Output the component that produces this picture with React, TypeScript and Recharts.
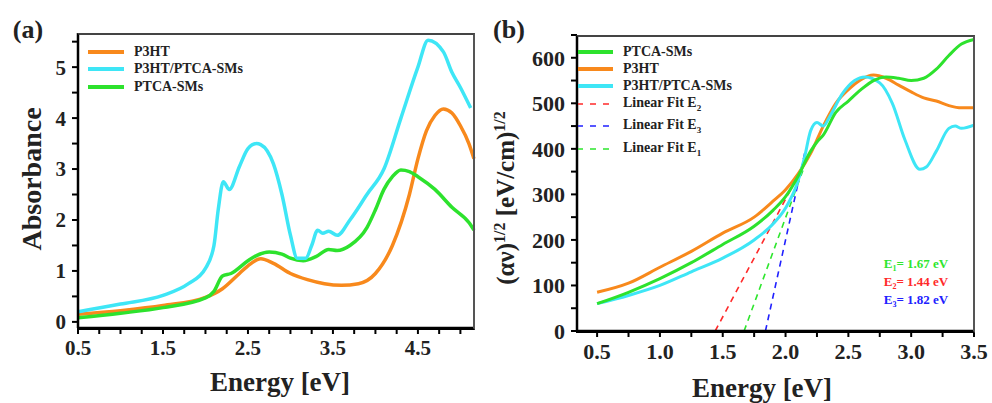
import React from "react"
import { LineChart, Line, XAxis, YAxis } from "recharts"

const FONT = '"Liberation Serif", "DejaVu Serif", serif'
const ORANGE = "#f8891c"
const CYAN = "#3ee6f6"
const GREEN = "#2de22d"

// ---- panel (a): absorbance vs energy
const aP3htE = [0.5, 1.0, 1.5, 2.0, 2.2, 2.4, 2.5, 2.65, 2.8, 3.0, 3.2, 3.4, 3.6, 3.8, 4.0, 4.2, 4.4, 4.5, 4.6, 4.7, 4.8, 4.9, 5.0, 5.1, 5.16]
const aP3htAbs = [0.15, 0.22, 0.32, 0.48, 0.65, 0.95, 1.1, 1.24, 1.15, 0.95, 0.83, 0.75, 0.72, 0.75, 0.95, 1.5, 2.5, 3.2, 3.75, 4.05, 4.18, 4.1, 3.85, 3.5, 3.2]

const aBlendE = [0.5, 1.0, 1.5, 1.8, 2.0, 2.1, 2.15, 2.21, 2.28, 2.4, 2.5, 2.6, 2.65, 2.8, 2.9, 3.0, 3.08, 3.18, 3.25, 3.32, 3.38, 3.45, 3.55, 3.7, 3.9, 4.1, 4.3, 4.5, 4.62, 4.8, 4.9, 5.0, 5.12]
const aBlendAbs = [0.2, 0.35, 0.52, 0.75, 1.05, 1.5, 2.2, 2.75, 2.6, 3.05, 3.4, 3.5, 3.48, 3.1, 2.5, 1.7, 1.25, 1.25, 1.5, 1.8, 1.74, 1.78, 1.7, 2.0, 2.5, 3.0, 4.0, 5.0, 5.53, 5.3, 4.9, 4.6, 4.2]

const aPtcaE = [0.5, 1.0, 1.5, 2.0, 2.1, 2.2, 2.3, 2.5, 2.6, 2.75, 2.9, 3.0, 3.15, 3.3, 3.45, 3.55, 3.7, 3.9, 4.0, 4.1, 4.2, 4.3, 4.4, 4.5, 4.7, 4.9, 5.1, 5.16]
const aPtcaAbs = [0.08, 0.17, 0.28, 0.47, 0.6, 0.9, 0.95, 1.2, 1.3, 1.37, 1.33, 1.25, 1.2, 1.28, 1.42, 1.4, 1.5, 1.85, 2.2, 2.6, 2.85, 2.98, 2.95, 2.85, 2.6, 2.25, 1.95, 1.8]

const aXTicks = [0.5, 0.75, 1.0, 1.25, 1.5, 1.75, 2.0, 2.25, 2.5, 2.75, 3.0, 3.25, 3.5, 3.75, 4.0, 4.25, 4.5, 4.75, 5.0]
const aXLabels = [0.5, 1.5, 2.5, 3.5, 4.5]
const aYTicks = [0, 0.5, 1, 1.5, 2, 2.5, 3, 3.5, 4, 4.5, 5, 5.5]
const aYLabels = [0, 1, 2, 3, 4, 5]

// ---- panel (b): Tauc plot
const bPtcaE = [0.5, 0.75, 1.0, 1.25, 1.5, 1.75, 1.9, 2.0, 2.1, 2.2, 2.25, 2.3, 2.4, 2.5, 2.6, 2.7, 2.8, 2.9, 3.0, 3.1, 3.2, 3.3, 3.4, 3.5]
const bPtcaVal = [60, 85, 115, 150, 190, 230, 265, 295, 340, 395, 415, 430, 480, 505, 530, 550, 558, 555, 550, 555, 575, 605, 630, 640]

const bP3htE = [0.5, 0.75, 1.0, 1.25, 1.5, 1.75, 1.9, 2.0, 2.1, 2.2, 2.3, 2.4, 2.5, 2.6, 2.7, 2.8, 2.9, 3.0, 3.1, 3.2, 3.3, 3.4, 3.5]
const bP3htVal = [85, 105, 140, 175, 215, 250, 285, 310, 345, 390, 450, 500, 530, 552, 562, 555, 540, 525, 512, 505, 495, 490, 490]

const bBlendE = [0.5, 0.75, 1.0, 1.25, 1.5, 1.75, 1.9, 2.0, 2.1, 2.15, 2.2, 2.25, 2.3, 2.35, 2.45, 2.55, 2.63, 2.75, 2.85, 2.95, 3.07, 3.12, 3.2, 3.3, 3.35, 3.4, 3.5]
const bBlendVal = [60, 78, 100, 130, 160, 200, 235, 270, 330, 380, 440, 458, 450, 470, 520, 550, 558, 545, 500, 420, 355, 360, 395, 445, 450, 445, 452]

const fitE2E = [1.44, 2.2]
const fitE2Val = [0, 393]
const fitE3E = [1.84, 2.16]
const fitE3Val = [0, 400]
const fitE1E = [1.67, 2.14]
const fitE1Val = [0, 354]

const bXTicks = [0.5, 0.75, 1.0, 1.25, 1.5, 1.75, 2.0, 2.25, 2.5, 2.75, 3.0, 3.25, 3.5]
const bXLabels = [0.5, 1.0, 1.5, 2.0, 2.5, 3.0, 3.5]
const bYTicks = [0, 50, 100, 150, 200, 250, 300, 350, 400, 450, 500, 550, 600, 650]
const bYLabels = [0, 100, 200, 300, 400, 500, 600]

const zip = (xs: number[], ys: number[]) => xs.map((x, i) => ({ x, y: ys[i] }))

const tickStyle = { fill: "#222", fontFamily: FONT, fontWeight: 700 }
const axisLine = { stroke: "#000", strokeWidth: 2.5 }
const tickLine = { stroke: "#000", strokeWidth: 2 }

function Overlay({ x, y, size, rotate, children, color = "#222" }: any) {
  return (
    <div
      style={{
        position: "absolute",
        left: x,
        top: y,
        transform: `translate(-50%, -50%)${rotate ? " rotate(-90deg)" : ""}`,
        fontFamily: FONT,
        fontWeight: 700,
        fontSize: size,
        lineHeight: 1,
        whiteSpace: "nowrap",
        color,
      }}
    >
      {children}
    </div>
  )
}

function LegendRow({ x, y, color, dashed, label, size = 14 }: any) {
  return (
    <div style={{ position: "absolute", left: x, top: y - 9, height: 18, display: "flex", alignItems: "center", fontFamily: FONT, fontWeight: 700, fontSize: size, color: "#222", whiteSpace: "nowrap" }}>
      <svg width={40} height={10} style={{ marginRight: 8 }}>
        <line x1={2} y1={5} x2={38} y2={5} stroke={color} strokeWidth={dashed ? 1.6 : 4} strokeDasharray={dashed ? "6 7" : undefined} />
      </svg>
      <span>{label}</span>
    </div>
  )
}

// plot box outline: heavy left/bottom, lighter top/right
function Frame({ left, top, width, height }: any) {
  return (
    <div
      style={{
        position: "absolute",
        left,
        top,
        width,
        height,
        borderTop: "2px solid #444",
        borderRight: "2px solid #555",
        borderLeft: "2.5px solid #000",
        borderBottom: "2.5px solid #000",
        boxSizing: "border-box",
        zIndex: 5,
      }}
    />
  )
}

export default function App() {
  return (
    <div style={{ position: "absolute", left: 0, top: 0, width: 992, height: 403, background: "#fff" }}>
      {/* panel (a) */}
      <div style={{ position: "absolute", left: 0, top: 0 }}>
        <LineChart width={490} height={403} data={zip(aP3htE, aP3htAbs)} margin={{ top: 33, right: 16, bottom: 45, left: 38 }}>
          <XAxis
            dataKey="x"
            type="number"
            domain={[0.5, 5.16]}
            ticks={aXTicks}
            tickFormatter={(v: number) => (aXLabels.includes(v) ? v.toFixed(1) : "")}
            tick={{ ...tickStyle, fontSize: 21 }}
            axisLine={axisLine}
            tickLine={tickLine}
            tickSize={6}
            tickMargin={6}
            height={30}
            interval={0}
          />
          <YAxis
            type="number"
            domain={[-0.12, 5.67]}
            ticks={aYTicks}
            tickFormatter={(v: number) => (aYLabels.includes(v) ? String(v) : "")}
            tick={{ ...tickStyle, fontSize: 21 }}
            axisLine={axisLine}
            tickLine={tickLine}
            tickSize={6}
            tickMargin={6}
            width={40}
            interval={0}
          />
          <Line dataKey="y" type="monotone" stroke={ORANGE} strokeWidth={3.5} dot={false} isAnimationActive={false} />
          <Line data={zip(aPtcaE, aPtcaAbs)} dataKey="y" type="monotone" stroke={GREEN} strokeWidth={3.5} dot={false} isAnimationActive={false} />
          <Line data={zip(aBlendE, aBlendAbs)} dataKey="y" type="monotone" stroke={CYAN} strokeWidth={3.5} dot={false} isAnimationActive={false} />
        </LineChart>
      </div>

      {/* panel (b) */}
      <div style={{ position: "absolute", left: 490, top: 0 }}>
        <LineChart width={502} height={403} data={zip(bP3htE, bP3htVal)} margin={{ top: 35, right: 18, bottom: 42, left: 42 }}>
          <XAxis
            dataKey="x"
            type="number"
            domain={[0.34, 3.5]}
            ticks={bXTicks}
            tickFormatter={(v: number) => (bXLabels.includes(v) ? v.toFixed(1) : "")}
            tick={{ ...tickStyle, fontSize: 22 }}
            axisLine={axisLine}
            tickLine={tickLine}
            tickSize={6}
            tickMargin={6}
            height={30}
            interval={0}
          />
          <YAxis
            type="number"
            domain={[0, 650]}
            ticks={bYTicks}
            tickFormatter={(v: number) => (bYLabels.includes(v) ? String(v) : "")}
            tick={{ ...tickStyle, fontSize: 22 }}
            axisLine={axisLine}
            tickLine={tickLine}
            tickSize={6}
            tickMargin={6}
            width={45}
            interval={0}
          />
          <Line data={zip(fitE2E, fitE2Val)} dataKey="y" type="linear" stroke="#ff2a2a" strokeWidth={1.6} strokeDasharray="6 5" dot={false} isAnimationActive={false} />
          <Line data={zip(fitE1E, fitE1Val)} dataKey="y" type="linear" stroke="#2ee62e" strokeWidth={1.6} strokeDasharray="6 5" dot={false} isAnimationActive={false} />
          <Line data={zip(fitE3E, fitE3Val)} dataKey="y" type="linear" stroke="#2020ff" strokeWidth={1.6} strokeDasharray="6 5" dot={false} isAnimationActive={false} />
          <Line dataKey="y" type="monotone" stroke={ORANGE} strokeWidth={3} dot={false} isAnimationActive={false} />
          <Line data={zip(bBlendE, bBlendVal)} dataKey="y" type="monotone" stroke={CYAN} strokeWidth={3} dot={false} isAnimationActive={false} />
          <Line data={zip(bPtcaE, bPtcaVal)} dataKey="y" type="monotone" stroke={GREEN} strokeWidth={3} dot={false} isAnimationActive={false} />
        </LineChart>
      </div>

      <Frame left={77} top={33} width={398} height={297} />
      <Frame left={576} top={35} width={399} height={298} />

      {/* titles */}
      <Overlay x={28} y={30} size={26}>(a)</Overlay>
      <Overlay x={509} y={30} size={26}>(b)</Overlay>
      <Overlay x={280} y={382} size={27}>Energy [eV]</Overlay>
      <Overlay x={762} y={388} size={27}>Energy [eV]</Overlay>
      <Overlay x={32} y={179} size={28} rotate>Absorbance</Overlay>
      <Overlay x={505} y={198} size={25} rotate>
        (αν)<sup style={{ fontSize: 16 }}>1/2</sup> [eV/cm)<sup style={{ fontSize: 16 }}>1/2</sup>
      </Overlay>

      {/* legend (a) */}
      <LegendRow x={86} y={52} color={ORANGE} label="P3HT" />
      <LegendRow x={86} y={69} color={CYAN} label="P3HT/PTCA-SMs" />
      <LegendRow x={86} y={87} color={GREEN} label="PTCA-SMs" />

      {/* legend (b) */}
      <LegendRow x={575} y={52} color={GREEN} label="PTCA-SMs" />
      <LegendRow x={575} y={69} color={ORANGE} label="P3HT" />
      <LegendRow x={575} y={86} color={CYAN} label="P3HT/PTCA-SMs" />
      <LegendRow x={575} y={104} color="#ff2a2a" dashed label={<>Linear Fit E<sub style={{ fontSize: 9 }}>2</sub></>} />
      <LegendRow x={575} y={126} color="#2020ff" dashed label={<>Linear Fit E<sub style={{ fontSize: 9 }}>3</sub></>} />
      <LegendRow x={575} y={149} color="#2ee62e" dashed label={<>Linear Fit E<sub style={{ fontSize: 9 }}>1</sub></>} />

      {/* band-gap annotations */}
      <Overlay x={916} y={265} size={13} color="#2ee62e">E<sub style={{ fontSize: 8 }}>1</sub>= 1.67 eV</Overlay>
      <Overlay x={916} y={283} size={13} color="#ff2a2a">E<sub style={{ fontSize: 8 }}>2</sub>= 1.44 eV</Overlay>
      <Overlay x={916} y={301} size={13} color="#2020ff">E<sub style={{ fontSize: 8 }}>3</sub>= 1.82 eV</Overlay>
    </div>
  )
}
